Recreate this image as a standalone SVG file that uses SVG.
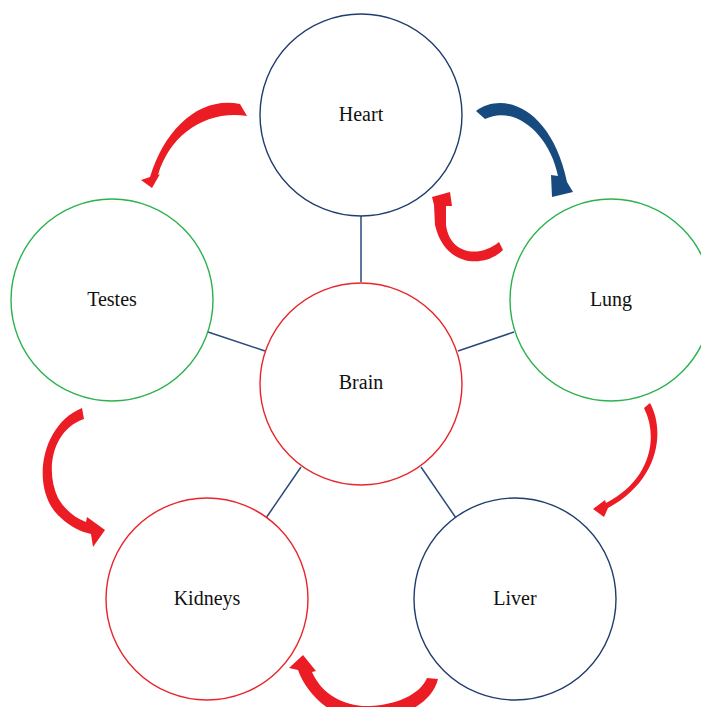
<svg xmlns="http://www.w3.org/2000/svg" width="701" height="707" viewBox="0 0 701 707">
<style>
.node circle{fill:#fff;stroke-width:1.4}
.navy circle{stroke:#1f3d6d}
.green circle{stroke:#2bb24c}
.red circle{stroke:#e8252a}
text{font-family:"Liberation Serif",serif;font-size:20px;fill:#111;text-anchor:middle}
.conn line{stroke:#2b4a7c;stroke-width:1.5}
.ar{fill:#ec1c24}
.ab{fill:#174a7e}
</style>
<rect width="701" height="707" fill="#fff"/>
<g class="conn" id="connectors">
<line x1="361" y1="216" x2="361" y2="282"/>
<line x1="208" y1="332" x2="265" y2="351"/>
<line x1="514" y1="332" x2="458" y2="351"/>
<line x1="301" y1="467" x2="266" y2="518"/>
<line x1="421" y1="467" x2="456" y2="518"/>
</g>
<g id="arrows">
<path class="ar" d="M 240 104 C 200 96, 165 128, 150 177 L 141 180 L 152 188 L 160 174 L 158 175 C 170 135, 205 110, 247 116 Z"/>
<path class="ab" d="M 476 111 C 505 90, 552 110, 567 182 L 573 192 L 552 197 L 551 175 L 558 176 C 550 135, 515 104, 485 119 Z"/>
<path class="ar" d="M 503 250 C 485 268, 445 268, 435 225 L 434 205 L 432 197 L 450 192 L 452 206 L 446 206 L 446 225 C 450 255, 480 258, 499 242 Z"/>
<path class="ar" d="M 650 403 C 665 430, 660 480, 608 508 L 604 517 L 593 509 L 605 500 L 606 503 C 648 482, 660 440, 644 408 Z"/>
<path class="ar" d="M 82 408 C 40 425, 30 490, 60 517 C 70 527, 82 532, 91 534 L 93 547 L 105 530 L 87 517 L 86 522 C 75 518, 65 510, 58 498 C 45 470, 52 430, 84 419 Z"/>
<path class="ar" d="M 438 679 C 430 712, 380 725, 350 718 C 325 712, 305 690, 298 670 L 289 668 L 303 655 L 316 671 L 312 672 C 322 695, 345 707, 370 706 C 395 705, 420 695, 427 678 Z"/>
</g>
<g id="heart" class="node navy"><circle cx="361" cy="115" r="101"/><text x="361" y="121">Heart</text></g>
<g id="testes" class="node green"><circle cx="112" cy="300" r="101"/><text x="112" y="306">Testes</text></g>
<g id="lung" class="node green"><circle cx="611" cy="300" r="101"/><text x="611" y="306">Lung</text></g>
<g id="brain" class="node red"><circle cx="361" cy="384" r="101"/><text x="361" y="389">Brain</text></g>
<g id="kidneys" class="node red"><circle cx="207" cy="599" r="101"/><text x="207" y="605">Kidneys</text></g>
<g id="liver" class="node navy"><circle cx="515" cy="599" r="101"/><text x="515" y="605">Liver</text></g>
</svg>
